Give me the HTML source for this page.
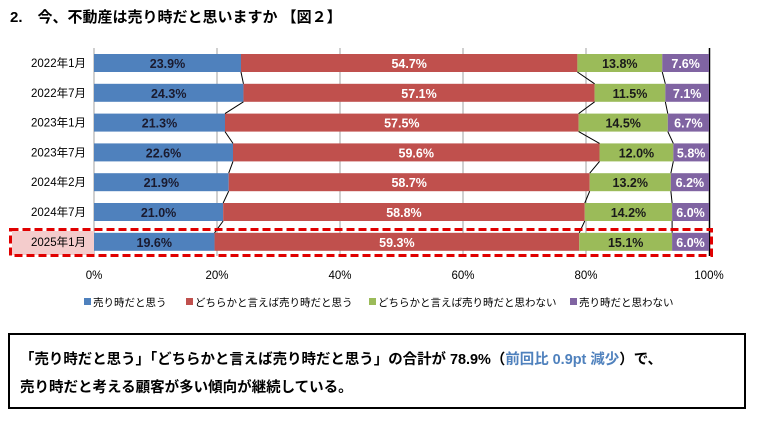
<!DOCTYPE html>
<html><head><meta charset="utf-8"><style>
body{margin:0;width:760px;height:424px;background:#fff;overflow:hidden;font-family:"Liberation Sans","Noto Sans CJK JP",sans-serif;}
svg text{font-family:"Liberation Sans","Noto Sans CJK JP",sans-serif;}
</style></head><body>
<svg width="760" height="424" xmlns="http://www.w3.org/2000/svg">
<text x="10" y="22" font-size="15" font-weight="bold" fill="#000">2.　今、不動産は売り時だと思いますか 【図２】</text>
<g stroke="#a0a0a0" stroke-width="1">
<line x1="94" y1="48" x2="94" y2="256"/><line x1="217" y1="48" x2="217" y2="256"/><line x1="340" y1="48" x2="340" y2="256"/><line x1="463" y1="48" x2="463" y2="256"/><line x1="586" y1="48" x2="586" y2="256"/>
</g>
<line x1="709.5" y1="48" x2="709.5" y2="256" stroke="#000" stroke-width="1.5"/>
<rect x="12" y="231" width="82" height="24" fill="#f4cccc"/>
<g id="bars"></g>
<rect x="10.5" y="229.5" width="701" height="26" fill="none" stroke="#e00000" stroke-width="3" stroke-dasharray="8,4"/>
<g font-size="11.5" fill="#000" text-anchor="middle">
<text x="94" y="279">0%</text><text x="217" y="279">20%</text><text x="340" y="279">40%</text><text x="463" y="279">60%</text><text x="586" y="279">80%</text><text x="709" y="279">100%</text>
</g>
<g font-size="10.5" fill="#000">
<rect x="84" y="298" width="7" height="7" fill="#4f81bd"/><text x="93" y="306">売り時だと思う</text>
<rect x="186" y="298" width="7" height="7" fill="#c0504d"/><text x="195" y="306">どちらかと言えば売り時だと思う</text>
<rect x="369" y="298" width="7" height="7" fill="#9bbb59"/><text x="378" y="306">どちらかと言えば売り時だと思わない</text>
<rect x="570" y="298" width="7" height="7" fill="#8064a2"/><text x="579" y="306">売り時だと思わない</text>
</g>
<rect x="9" y="334" width="736" height="74" fill="none" stroke="#000" stroke-width="2"/>
<text x="20" y="364" font-size="14.5" font-weight="bold" fill="#000" textLength="642" lengthAdjust="spacingAndGlyphs">「売り時だと思う」「どちらかと言えば売り時だと思う」の合計が 78.9%（<tspan fill="#4f81bd">前回比 0.9pt 減少</tspan>）で、</text>
<text x="20" y="392" font-size="14.5" font-weight="bold" fill="#000">売り時だと考える顧客が多い傾向が継続している。</text>
</svg>
<script>
const rows=[["2022年1月",[23.9,54.7,13.8,7.6]],["2022年7月",[24.3,57.1,11.5,7.1]],["2023年1月",[21.3,57.5,14.5,6.7]],["2023年7月",[22.6,59.6,12.0,5.8]],["2024年2月",[21.9,58.7,13.2,6.2]],["2024年7月",[21.0,58.8,14.2,6.0]],["2025年1月",[19.6,59.3,15.1,6.0]]];
const cols=["#4f81bd","#c0504d","#9bbb59","#8064a2"],tc=["#1a1a2e","#fff","#1a1a1a","#fff"];
const x0=94,W=615,g=document.getElementById("bars");let s="";let prev=null;
rows.forEach((r,i)=>{const y=54+i*29.8,h=18;let c=0;const bounds=[];
 s+=`<text x="86" y="${y+13}" font-size="11.5" text-anchor="end" fill="#000">${r[0]}</text>`;
 r[1].forEach((v,j)=>{const xa=x0+c/100*W;c+=v;let xb=x0+c/100*W;if(j==3)xb=x0+W;
  s+=`<rect x="${xa}" y="${y}" width="${xb-xa}" height="${h}" fill="${cols[j]}"/>`;
  s+=`<text x="${(xa+xb)/2}" y="${y+14}" font-size="12.5" font-weight="bold" text-anchor="middle" fill="${tc[j]}">${v.toFixed(1)}%</text>`;
  bounds.push(xb);});
 if(prev){for(let k=0;k<3;k++)s+=`<line x1="${prev.b[k]}" y1="${prev.y+18}" x2="${bounds[k]}" y2="${y}" stroke="#000" stroke-width="1"/>`;}
 prev={b:bounds,y:y};});
g.innerHTML=s;
</script>
</body></html>
